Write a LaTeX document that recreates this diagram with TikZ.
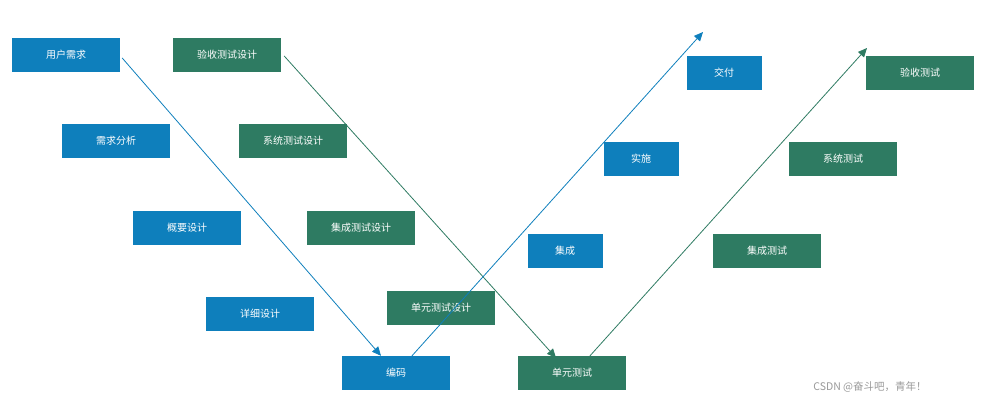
\documentclass[tikz,border=0pt]{standalone}
\usepackage{fontspec}
\setmainfont{Noto Sans CJK SC}
\usetikzlibrary{arrows.meta}
\definecolor{vblue}{HTML}{0E7FBC}
\definecolor{vgreen}{HTML}{2E7B62}
\tikzset{
    box/.style={fill=#1, text=white, minimum width=108pt, minimum height=34pt, inner sep=0pt, font=\fontsize{10pt}{12pt}\selectfont},
    sbox/.style={box=#1, minimum width=75pt},
    link/.style={draw=#1, thick, -{Triangle[length=9pt,width=8pt]}},
}
\begin{document}
\begin{tikzpicture}[x=1pt,y=-1pt]
    \useasboundingbox (0,0) rectangle (985,407);
    % left side
    \node (req)  at (66,55)   [box=vblue] {用户需求};
    \node (ana)  at (116,141) [box=vblue] {需求分析};
    \node (out)  at (187,228) [box=vblue] {概要设计};
    \node (det)  at (260,314) [box=vblue] {详细设计};
    \node (code) at (396,373) [box=vblue] {编码};
    \node (atd)  at (227,55)  [box=vgreen] {验收测试设计};
    \node (std)  at (293,141) [box=vgreen] {系统测试设计};
    \node (itd)  at (361,228) [box=vgreen] {集成测试设计};
    \node (utd)  at (441,308) [box=vgreen] {单元测试设计};
    % right side
    \node (ut)   at (572,373) [box=vgreen] {单元测试};
    \node (it)   at (767,251) [box=vgreen] {集成测试};
    \node (st)   at (843,159) [box=vgreen] {系统测试};
    \node (at)   at (920,73)  [box=vgreen] {验收测试};
    \node (int)  at (565,251) [sbox=vblue] {集成};
    \node (imp)  at (641,159) [sbox=vblue] {实施};
    \node (del)  at (724,73)  [sbox=vblue] {交付};

    \coordinate (bTop) at (703,32);
    \coordinate (gTop) at (867,48);

    \draw [link=vblue] (req.east) ++(2,3) -- ([xshift=-15pt]code.north);
    \draw [link=vgreen] (atd.east) ++(3,1) -- ([xshift=-16pt,yshift=-2pt]ut.north);
    \draw [link=vblue] ([xshift=16pt]code.north) -- (bTop);
    \draw [link=vgreen] ([xshift=18pt]ut.north) -- (gTop);

    \node (mark) at (870,387) [text=gray!80, font=\fontsize{10.5pt}{12pt}\selectfont] {CSDN @奋斗吧，青年！};
\end{tikzpicture}
\end{document}
